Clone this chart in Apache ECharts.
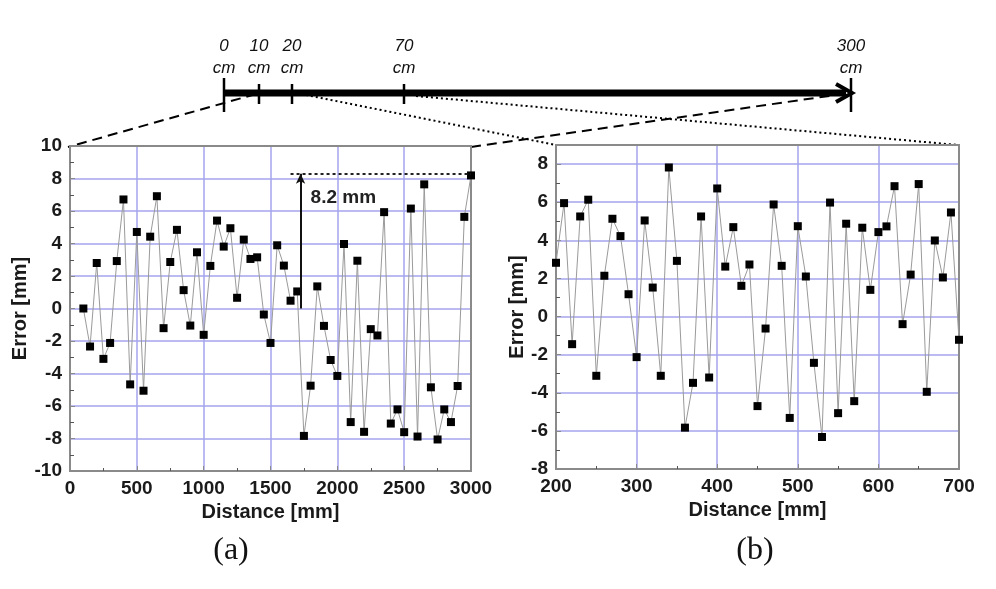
<!DOCTYPE html>
<html>
<head>
<meta charset="utf-8">
<script src="https://cdn.jsdelivr.net/npm/echarts@6/dist/echarts.min.js"></script>
<style>
html,body{margin:0;padding:0;background:#fff;}
#chart{width:996px;height:589px;}
</style>
</head>
<body>
<div id="chart"></div>
<script>
// ---- data ----
const leftDistance = [100,150,200,250,300,350,400,450,500,550,600,650,700,750,800,850,900,950,1000,1050,1100,1150,1200,1250,1300,1350,1400,1450,1500,1550,1600,1650,1700,1750,1800,1850,1900,1950,2000,2050,2100,2150,2200,2250,2300,2350,2400,2450,2500,2550,2600,2650,2700,2750,2800,2850,2900,2950,3000];
const leftError = [0.0,-2.34,2.8,-3.1,-2.12,2.92,6.71,-4.67,4.71,-5.06,4.42,6.91,-1.21,2.86,4.84,1.13,-1.05,3.46,-1.62,2.62,5.41,3.81,4.94,0.66,4.24,3.05,3.15,-0.37,-2.12,3.89,2.64,0.48,1.05,-7.84,-4.75,1.36,-1.07,-3.17,-4.15,3.97,-6.99,2.94,-7.59,-1.27,-1.66,5.93,-7.08,-6.21,-7.61,6.15,-7.88,7.64,-4.85,-8.06,-6.21,-6.99,-4.77,5.64,8.19];
const rightDistance = [200,210,220,230,240,250,260,270,280,290,300,310,320,330,340,350,360,370,380,390,400,410,420,430,440,450,460,470,480,490,500,510,520,530,540,550,560,570,580,590,600,610,620,630,640,650,660,670,680,690,700];
const rightError = [2.82,5.95,-1.45,5.25,6.13,-3.11,2.14,5.13,4.22,1.17,-2.13,5.04,1.52,-3.11,7.82,2.92,-5.83,-3.48,5.25,-3.20,6.72,2.62,4.69,1.61,2.73,-4.70,-0.63,5.88,2.66,-5.32,4.74,2.10,-2.43,-6.32,5.98,-5.07,4.87,-4.44,4.66,1.40,4.43,4.73,6.84,-0.40,2.20,6.95,-3.95,3.99,2.05,5.46,-1.22];
const peakLabel = '8.2 mm';
const peakValue = 8.3;
const scaleLabels = ['0','10','20','70','300'];
const unitLabel = 'cm';
const panelLabels = ['(a)','(b)'];
const xTitle = 'Distance [mm]';
const yTitle = 'Error [mm]';

const chart = echarts.init(document.getElementById('chart'), null, {renderer:'canvas'});

const FRAME = '#8a8a8a';
const GRIDC = '#a4a4ee';
const labelFont = {fontFamily:'Liberation Sans, Arial, sans-serif', fontWeight:'bold', fontSize:19, color:'#1a1a1a'};
const plain = v => String(v);

function xAx(gi, min, max, interval){
  return {
    gridIndex: gi, type:'value', min:min, max:max, interval:interval,
    name: xTitle, nameLocation:'middle', nameGap:30,
    nameTextStyle: Object.assign({}, labelFont, {fontSize:20}),
    axisLine:{show:true, onZero:false, lineStyle:{color:FRAME, width:2}},
    axisTick:{show:true, inside:true, length:5, lineStyle:{color:FRAME}},
    minorTick:{show:true, splitNumber:2, length:3, lineStyle:{color:'#555'}},
    axisLabel: Object.assign({margin:8, formatter:plain}, labelFont),
    splitLine:{show:true, lineStyle:{color:GRIDC, width:1.5}}
  };
}
function yAx(gi, min, max, interval, gap){
  return {
    gridIndex: gi, type:'value', min:min, max:max, interval:interval,
    name: yTitle, nameLocation:'middle', nameGap:gap, nameRotate:90,
    nameTextStyle: Object.assign({}, labelFont, {fontSize:20}),
    axisLine:{show:true, onZero:false, lineStyle:{color:FRAME, width:2}},
    axisTick:{show:true, inside:true, length:5, lineStyle:{color:FRAME}},
    minorTick:{show:true, splitNumber:2, length:4, lineStyle:{color:'#555'}},
    axisLabel: Object.assign({margin:8, showMaxLabel: gi===0, formatter:plain}, labelFont),
    splitLine:{show:true, lineStyle:{color:GRIDC, width:1.5}}
  };
}
function frameX(gi, min, max){
  return {gridIndex:gi, type:'value', position:'top', min:min, max:max,
    axisLine:{show:true, onZero:false, lineStyle:{color:FRAME, width:2}},
    axisTick:{show:false}, axisLabel:{show:false}, splitLine:{show:false}};
}
function frameY(gi, min, max){
  return {gridIndex:gi, type:'value', position:'right', min:min, max:max,
    axisLine:{show:true, onZero:false, lineStyle:{color:FRAME, width:2}},
    axisTick:{show:false}, axisLabel:{show:false}, splitLine:{show:false}};
}

const leftData = leftDistance.map((d,i)=>[d,leftError[i]]);
const rightData = rightDistance.map((d,i)=>[d,rightError[i]]);

const gText = (x,y,t)=>({type:'text', x:x, y:y, style:{text:t, fill:'#111', font:'italic 17px "Liberation Sans", Arial, sans-serif', align:'center', verticalAlign:'middle'}});
const gLine = (x1,y1,x2,y2,w,dash)=>({type:'line', shape:{x1:x1,y1:y1,x2:x2,y2:y2}, style:{stroke:'#000', lineWidth:w, lineDash:dash||null}});
const schemX = [224,259,292,404,851];
const graphics = [
  gLine(224,93,846,93,7),
  {type:'polyline', shape:{points:[[836,84],[852,93],[836,102]]}, style:{stroke:'#000', lineWidth:4, fill:null}},
  gLine(224,78,224,112,2.5), gLine(259,84,259,104,2.5), gLine(292,84,292,104,2.5), gLine(404,84,404,104,2.5), gLine(851,78,851,112,2.5),
  gLine(256,94,68,147,2,[10,6]),
  gLine(471,147,836,95,2,[10,6]),
  gLine(306,95,556,145,2,[2,3]),
  gLine(416,96,958,145,2,[2,3]),
  {type:'text', x:231, y:551, style:{text:panelLabels[0], fill:'#111', font:'32px "Liberation Serif", "Times New Roman", serif', align:'center', verticalAlign:'middle'}},
  {type:'text', x:755, y:551, style:{text:panelLabels[1], fill:'#111', font:'32px "Liberation Serif", "Times New Roman", serif', align:'center', verticalAlign:'middle'}}
];
scaleLabels.forEach((s,i)=>{ graphics.push(gText(schemX[i],46,s)); graphics.push(gText(schemX[i],68,unitLabel)); });

const option = {
  backgroundColor:'#fff',
  animation:false,
  grid:[
    {left:70, top:146, width:401, height:325, show:true, borderColor:FRAME, borderWidth:2, backgroundColor:'#fff', containLabel:false},
    {left:556, top:145, width:403, height:324, show:true, borderColor:FRAME, borderWidth:2, backgroundColor:'#fff', containLabel:false}
  ],
  xAxis:[ xAx(0,0,3000,500), xAx(1,200,700,100), frameX(0,0,3000), frameX(1,200,700) ],
  yAxis:[ yAx(0,-10,10,2,32), yAx(1,-8,9,2,26), frameY(0,-10,10), frameY(1,-8,9) ],
  series:[
    {type:'line', xAxisIndex:0, yAxisIndex:0, data:leftData, symbol:'rect', symbolSize:8,
     itemStyle:{color:'#000'}, lineStyle:{color:'#9a9a9a', width:1}, z:3,
     markLine:{silent:true, symbol:'none', label:{show:false}, animation:false,
       data:[
         [{coord:[1650,peakValue], lineStyle:{type:[3,3], color:'#222', width:2}}, {coord:[3000,peakValue]}],
         [{coord:[1725,0], symbol:'none', lineStyle:{type:'solid', color:'#111', width:2}}, {coord:[1725,peakValue], symbol:'arrow', symbolSize:[7,10]}]
       ]},
     markPoint:{silent:true, symbol:'rect', symbolSize:1, itemStyle:{color:'rgba(0,0,0,0)'},
       label:{show:true, position:'inside', formatter:peakLabel, fontFamily:'Liberation Sans, Arial, sans-serif', fontWeight:'bold', fontSize:19, color:'#222'},
       data:[{coord:[2045,6.8]}]}
    },
    {type:'line', xAxisIndex:1, yAxisIndex:1, data:rightData, symbol:'rect', symbolSize:8,
     itemStyle:{color:'#000'}, lineStyle:{color:'#9a9a9a', width:1}, z:3}
  ],
  graphic: graphics
};
chart.setOption(option);
</script>
</body>
</html>
